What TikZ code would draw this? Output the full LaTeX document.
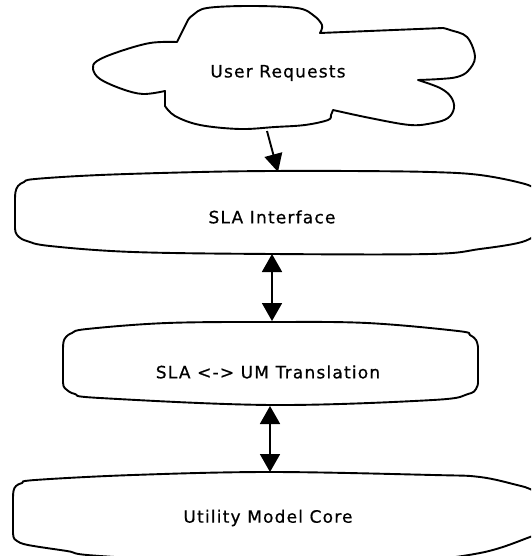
\documentclass[tikz,border=0pt]{standalone}
\usepackage{fontspec}
\newfontfamily\lblfont{DejaVu Sans}[LetterSpace=7,FakeBold=0.6]
\usetikzlibrary{arrows.meta}

\begin{document}
\begin{tikzpicture}[x=1pt,y=-1pt,
  outline/.style={line width=1.9pt, line join=round, line cap=round},
  lbl/.style={font=\lblfont\fontsize{17}{20}\selectfont, inner sep=0pt},
  feed/.style={line width=1.9pt, -{Triangle[length=18pt,width=18pt]}},
  link/.style={line width=1.9pt,
    {Triangle[length=18pt,width=20pt]}-{Triangle[length=18pt,width=20pt]}}]
\useasboundingbox (0,0) rectangle (531,556);
\clip (0,0) rectangle (531,556);

% cloud of incoming requests
\draw[outline]
  plot[smooth,tension=.6] coordinates {(177,42) (150,43) (118,52) (97,61) (93,69) (100,79) (122,89) (143,94) (165,91)}
  -- (165,106)
  -- plot[smooth,tension=.6] coordinates {(165,106) (175,116) (200,125) (240,129) (275,127) (305,125) (328,120) (331,115) (333,110)}
  -- plot[smooth,tension=.6] coordinates {(333,110) (370,118) (410,125) (433,123) (448,118) (454,108) (451,97) (440,88) (418,80)}
  -- plot[smooth,tension=.6] coordinates {(418,80) (440,79) (457,77) (468,71) (475,57) (467,37) (450,30) (443,28)}
  -- (320,33)
  -- plot[smooth,tension=.6] coordinates {(320,33) (322,25) (313,15) (297,8) (250,6) (207,8) (193,15) (188,20)}
  -- cycle;
\node[lbl] (user) at (278,73) {User Requests};

% service level agreement layer
\draw[outline]
  plot[smooth,tension=.6] coordinates {(15,200) (15.5,192) (18,186) (24,182) (35,179) (100,175) (200,172) (272,171) (350,171) (430,172) (480,175) (525,184) (540,192)}
  -- (540,232)
  -- plot[smooth,tension=.6] coordinates {(540,232) (522,242) (480,249) (430,254) (273,254) (133,252) (50,246) (27,241) (19,237) (15.5,232) (15,226)}
  -- cycle;
\node[lbl] (sla) at (272,217) {SLA Interface};

% translation layer
\draw[outline]
  plot[smooth,tension=.6] coordinates {(63,350) (63.5,342) (66,337) (72,333) (87,329) (167,323) (272,322) (367,323) (458,331) (470,335) (476,340) (478,347)}
  -- (478,383)
  -- plot[smooth,tension=.6] coordinates {(478,383) (476,389) (468,394) (433,400) (272,405) (100,398) (75,394) (67,390) (63.5,386) (63,380)}
  -- cycle;
\node[lbl] (trans) at (268,372) {SLA <-> UM Translation};

% utility model core layer
\draw[outline]
  plot[smooth,tension=.6] coordinates {(13,499) (13.5,491) (16,486) (22,483) (35,480) (133,475) (270,472) (433,475) (480,477) (517,485) (530,489) (540,495)}
  -- (540,532)
  -- plot[smooth,tension=.6] coordinates {(540,532) (530,537) (480,553) (400,562) (270,565) (100,556) (67,551) (28,545) (17,541) (13.5,537) (13,531)}
  -- cycle;
\node[lbl] (core) at (268,518) {Utility Model Core};

% connector end points on the outlines
\coordinate (userbot) at (267,131);
\coordinate (slatop) at (278,172);
\coordinate (slabot) at (272,254);
\coordinate (transtop) at (272,321);
\coordinate (transbot) at (270,406);
\coordinate (coretop) at (270,472);

\draw[feed] (userbot) -- (slatop);
\draw[link] (slabot) -- (transtop);
\draw[link] (transbot) -- (coretop);
\end{tikzpicture}
\end{document}
